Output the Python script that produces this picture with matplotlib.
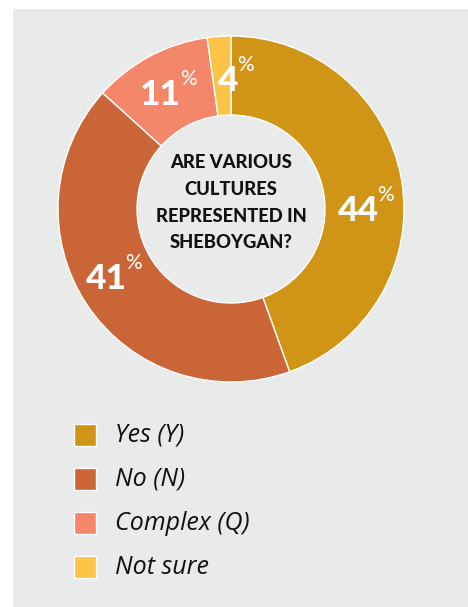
import matplotlib
matplotlib.use("Agg")
import matplotlib.pyplot as plt
from matplotlib.patches import Rectangle
import numpy as np

# ---- data ----
categories = ["Yes (Y)", "No (N)", "Complex (Q)", "Not sure"]
label_values = [44, 41, 11, 4]          # printed percentages
wedge_shares = [44.5, 42.2, 11.1, 2.2]  # wedge sizes as drawn
colors = ["#D09417", "#C96537", "#F4866A", "#FCC346"]
center_title = ["ARE VARIOUS", "CULTURES", "REPRESENTED IN", "SHEBOYGAN?"]

# ---- layout (pixel units, y measured from top) ----
W, H = 468, 607
CX, CY = 231, 209
R_OUT, R_IN = 173, 94
label_angles = [90.9, 240.75, 328.4, -1.3]   # clockwise from top
label_radii = [127, 143, 134, 128]
BG = "#E9EBEA"

def Y(y):
    return H - y

fig = plt.figure(figsize=(W / 100, H / 100), dpi=100)
fig.patch.set_facecolor("white")
ax = fig.add_axes([0, 0, 1, 1])

ax.add_patch(Rectangle((13, 0), W - 13, Y(9), facecolor=BG, edgecolor="none", zorder=0))

wedges, _ = ax.pie(wedge_shares, colors=colors, startangle=90, counterclock=False,
                   radius=R_OUT, center=(CX, Y(CY)),
                   wedgeprops=dict(width=R_OUT - R_IN, edgecolor="white", linewidth=1.0))
for w in wedges:
    w.set_zorder(2)

ax.set_xlim(0, W)
ax.set_ylim(0, H)
ax.set_aspect("auto")
ax.axis("off")

# percentage labels
for v, a, r in zip(label_values, label_angles, label_radii):
    th = np.deg2rad(a)
    x = CX + r * np.sin(th)
    y = CY - r * np.cos(th)
    t = ax.text(x, Y(y), str(v), fontsize=25.5, fontweight=900, family="Lato",
                color="white", ha="center", va="center", zorder=3)
    ax.annotate("%", xy=(1, 1), xycoords=t, xytext=(-1.0, 7), textcoords="offset points",
                fontsize=15, family="Lato", color="white", ha="left", va="top", zorder=3)

# center title
line_y = [163, 189.7, 216.3, 243]
for s, ly in zip(center_title, line_y):
    ax.text(CX, Y(ly), s, fontsize=13.2, fontweight=900, family="Lato",
            color="#111111", ha="center", va="center", zorder=3)

# legend
leg_y = [435, 479, 523, 567]
for c, lab, ly in zip(colors, categories, leg_y):
    ax.add_patch(Rectangle((74, Y(ly) - 11), 22, 22, facecolor=c, edgecolor="white",
                           linewidth=1.0, zorder=3))
    ax.text(115, Y(ly), lab, fontsize=18, style="italic", family="Open Sans",
            color="#111111", ha="left", va="center", zorder=3)

fig.savefig("out.png", dpi=100, facecolor=fig.get_facecolor())
